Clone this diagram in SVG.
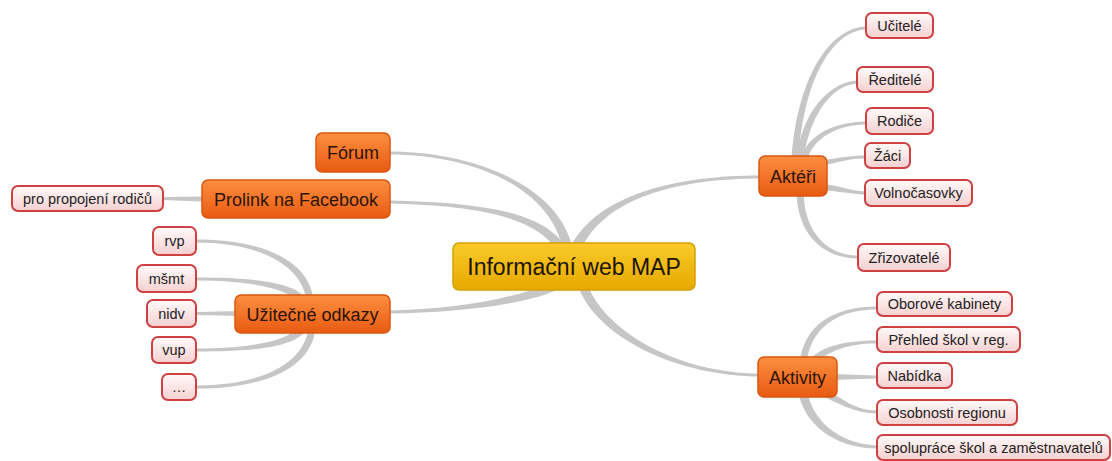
<svg xmlns="http://www.w3.org/2000/svg" width="1112" height="461" viewBox="0 0 1112 461">
<defs>
<linearGradient id="gCenter" x1="0" y1="0" x2="0" y2="1">
<stop offset="0" stop-color="#f9cb2a"/><stop offset="1" stop-color="#e6a800"/>
</linearGradient>
<linearGradient id="gMain" x1="0" y1="0" x2="0" y2="1">
<stop offset="0" stop-color="#fd8f40"/><stop offset="1" stop-color="#e85a12"/>
</linearGradient>
<linearGradient id="gKid" x1="0" y1="0" x2="0" y2="1">
<stop offset="0" stop-color="#fffafa"/><stop offset="1" stop-color="#f6d0d0"/>
</linearGradient>
<style>
.conn{fill:#c6c6c6;stroke:none}
.center rect{fill:url(#gCenter);stroke:#d6a000;stroke-width:1.5}
.main rect{fill:url(#gMain);stroke:#d9560f;stroke-width:1.5}
.kid rect{fill:url(#gKid);stroke:#cf4040;stroke-width:2}
text{font-family:"Liberation Sans","DejaVu Sans",sans-serif;text-anchor:middle}
.center text{font-size:23px;fill:#1c1400}
.main text{font-size:18px;fill:#2a1508}
.kid text{font-size:14.5px;fill:#222}
</style>
</defs>
<g id="connectors">
<path class="conn" d="M390,151.5 C470,151.5 560,184 573,250 L563,250 C550,186 470,154.5 390,154.5 Z"/>
<path class="conn" d="M390,200.5 C470,202.5 543,209 566,247.5 L558,252.5 C537,215 470,205.5 390,203.5 Z"/>
<path class="conn" d="M760,175.5 C680,175.5 597,193 570,248 L580,252 C603,197 680,178.5 760,178.5 Z"/>
<path class="conn" d="M390,310.5 C460,309.5 528,296 557.5,278.7 L562.5,287.3 C532,304 460,312.5 390,313.5 Z"/>
<path class="conn" d="M760,373.5 C680,373.5 604,332 587,283 L577,283 C594,338 680,376.5 760,376.5 Z"/>
<path class="conn" d="M866,26.5 C829,28 797,78 791.5,160 L798.5,160 C803,82 831,31 866,29.5 Z"/>
<path class="conn" d="M857,80.5 C829,82 801,113 796.5,160 L803.5,160 C809,117 831,85 857,83.5 Z"/>
<path class="conn" d="M866,121.5 C829,122 805,139 800.5,160 L807.5,160 C811,143 831,125 866,124.5 Z"/>
<path class="conn" d="M865,155.5 C850,155.5 840,158 820,160.5 L820,166 C840,162 850,158.5 865,158.5 Z"/>
<path class="conn" d="M820,184 C840,185 850,191 865,191.5 L865,194.5 C850,194 838,191 820,190 Z"/>
<path class="conn" d="M858,255.5 C827,255.5 803.5,232 803.5,190 L796.5,190 C796.5,234 823,258.5 858,258.5 Z"/>
<path class="conn" d="M877,306.5 C834,306.5 802.5,325 799.5,365 L806.5,365 C809.5,329 836,309.5 877,309.5 Z"/>
<path class="conn" d="M877,340.5 C844,340.5 822,346.5 809.5,359.5 L814.5,364.5 C828,351.5 846,343.5 877,343.5 Z"/>
<path class="conn" d="M830,374 L877,375.5 L877,378.5 L830,380 Z"/>
<path class="conn" d="M877,410.5 C854,410.5 841,397 826,390 L822,396 C838,403 855,413.5 877,413.5 Z"/>
<path class="conn" d="M877,445.5 C836,443.5 812,418 807.5,392 L798.5,392 C803,422 833,448.5 877,448.5 Z"/>
<path class="conn" d="M196,239.5 C262,239.5 309,260 313.5,300 L306.5,300 C301,264 258,242.5 196,242.5 Z"/>
<path class="conn" d="M196,277.5 C251,277.5 293,282 305,297.5 L299,302.5 C287,288 249,280.5 196,280.5 Z"/>
<path class="conn" d="M196,312 L240,311 L240,316 L196,315 Z"/>
<path class="conn" d="M196,348.5 C249,348.5 287,342 300,325.5 L306,330.5 C293,348 251,351.5 196,351.5 Z"/>
<path class="conn" d="M196,385.5 C263,385.5 304,363 308.5,328 L315.5,328 C312,367 267,388.5 196,388.5 Z"/>
<path class="conn" d="M163,197 L202,196.5 L202,201.5 L163,200 Z"/>
</g>
<g id="n-center" class="center"><rect x="453" y="243" width="242" height="47" rx="6"/><text x="574" y="274.5">Informační web MAP</text></g>
<g id="n-forum" class="main"><rect x="316" y="133" width="74" height="39" rx="6"/><text x="353" y="158.5">Fórum</text></g>
<g id="n-prolink" class="main"><rect x="202" y="180" width="188" height="38" rx="6"/><text x="296" y="205.5">Prolink na Facebook</text></g>
<g id="n-odkazy" class="main"><rect x="235" y="295" width="155" height="38" rx="6"/><text x="312.5" y="320.5">Užitečné odkazy</text></g>
<g id="n-akteri" class="main"><rect x="759" y="156" width="68" height="40" rx="6"/><text x="793" y="182.5">Aktéři</text></g>
<g id="n-aktivity" class="main"><rect x="758" y="357" width="79" height="40" rx="6"/><text x="797.5" y="383.5">Aktivity</text></g>
<g id="n-propojeni" class="kid"><rect x="12" y="186" width="151" height="25" rx="6"/><text x="87.5" y="203.5">pro propojení rodičů</text></g>
<g id="n-rvp" class="kid"><rect x="153" y="227" width="43" height="28" rx="6"/><text x="174.5" y="246">rvp</text></g>
<g id="n-msmt" class="kid"><rect x="137" y="265" width="59" height="27" rx="6"/><text x="166.5" y="283.5">mšmt</text></g>
<g id="n-nidv" class="kid"><rect x="147" y="300" width="49" height="27" rx="6"/><text x="171.5" y="318.5">nidv</text></g>
<g id="n-vup" class="kid"><rect x="152" y="337" width="44" height="26" rx="6"/><text x="174" y="355">vup</text></g>
<g id="n-dots" class="kid"><rect x="162" y="374" width="34" height="26" rx="6"/><text x="179" y="392">…</text></g>
<g id="n-ucitele" class="kid"><rect x="866" y="13" width="67" height="25" rx="6"/><text x="899.5" y="30.5">Učitelé</text></g>
<g id="n-reditele" class="kid"><rect x="857" y="67" width="76" height="25" rx="6"/><text x="895" y="84.5">Ředitelé</text></g>
<g id="n-rodice" class="kid"><rect x="866" y="108" width="67" height="26" rx="6"/><text x="899.5" y="126">Rodiče</text></g>
<g id="n-zaci" class="kid"><rect x="865" y="143" width="45" height="25" rx="6"/><text x="887.5" y="160.5">Žáci</text></g>
<g id="n-volno" class="kid"><rect x="865" y="180" width="107" height="26" rx="6"/><text x="918.5" y="198">Volnočasovky</text></g>
<g id="n-zrizovatele" class="kid"><rect x="858" y="244" width="92" height="27" rx="6"/><text x="904" y="262.5">Zřizovatelé</text></g>
<g id="n-oborove" class="kid"><rect x="877" y="292" width="135" height="24" rx="6"/><text x="944.5" y="309">Oborové kabinety</text></g>
<g id="n-prehled" class="kid"><rect x="877" y="327" width="143" height="25" rx="6"/><text x="948.5" y="344.5">Přehled škol v reg.</text></g>
<g id="n-nabidka" class="kid"><rect x="877" y="363" width="75" height="25" rx="6"/><text x="914.5" y="380.5">Nabídka</text></g>
<g id="n-osobnosti" class="kid"><rect x="877" y="400" width="140" height="25" rx="6"/><text x="947" y="417.5">Osobnosti regionu</text></g>
<g id="n-spoluprace" class="kid"><rect x="877" y="435" width="233" height="25" rx="6"/><text x="993.5" y="452.5">spolupráce škol a zaměstnavatelů</text></g>
</svg>
